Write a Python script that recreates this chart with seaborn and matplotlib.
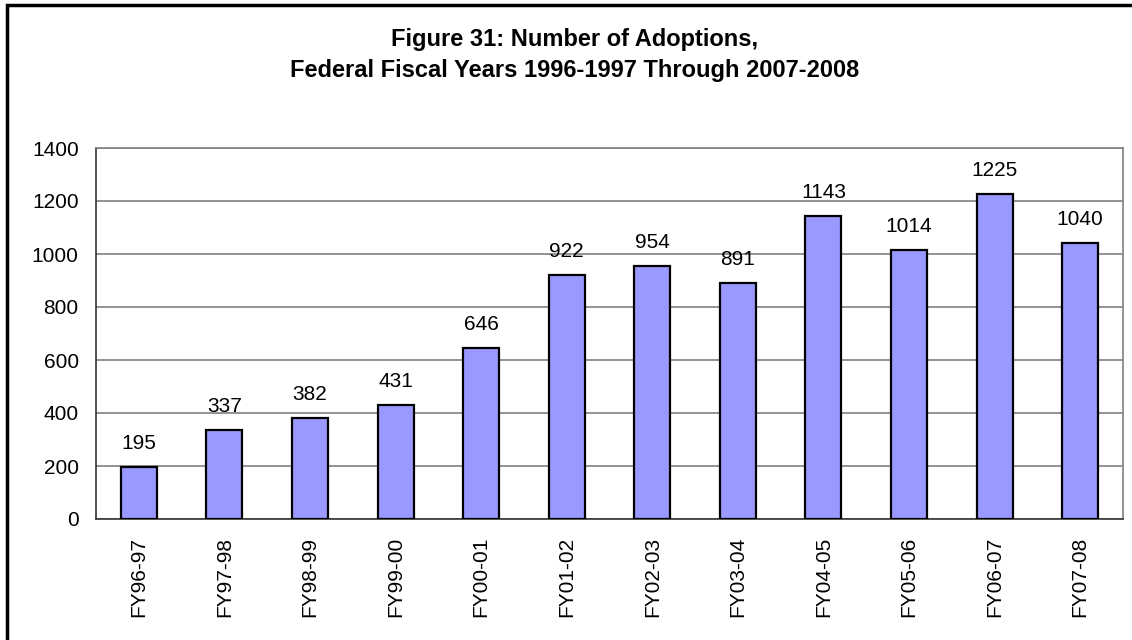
import numpy as np
import pandas as pd
import matplotlib
matplotlib.use("Agg")
import matplotlib.pyplot as plt
import seaborn as sns
from matplotlib.patches import Rectangle

# DADOS
anos = ["FY96-97", "FY97-98", "FY98-99", "FY99-00", "FY00-01", "FY01-02",
        "FY02-03", "FY03-04", "FY04-05", "FY05-06", "FY06-07", "FY07-08"]
adocoes = [195, 337, 382, 431, 646, 922, 954, 891, 1143, 1014, 1225, 1040]
yticks = [0, 200, 400, 600, 800, 1000, 1200, 1400]

titulo = ["Figure 31: Number of Adoptions,",
          "Federal Fiscal Years 1996-1997 Through 2007-2008"]

df = pd.DataFrame({"ano": anos, "adocoes": adocoes})

sns.set_style("white")
plt.rcParams["font.family"] = ["Liberation Sans", "DejaVu Sans"]
plt.rcParams["text.color"] = "black"
plt.rcParams["xtick.color"] = "black"
plt.rcParams["ytick.color"] = "black"

W, H = 1132, 640
fig = plt.figure(figsize=(W / 100, H / 100), dpi=100)
ax = fig.add_axes([96 / W, 1 - 519 / H, (1123 - 96) / W, (519 - 148) / H])

sns.barplot(data=df, x="ano", y="adocoes", color="#9999FF", saturation=1,
            width=0.42, edgecolor="black", linewidth=1.6, ax=ax, zorder=3)

# rótulos acima das barras
for i, v in enumerate(adocoes):
    ax.annotate(str(v), (i, v), xytext=(0, 13), textcoords="offset points",
                ha="center", va="baseline", fontsize=15)

ax.set_ylim(0, 1400)
ax.set_xlim(-0.5, len(anos) - 0.5)
ax.set_yticks(yticks)
ax.set_yticklabels([str(t) for t in yticks], fontsize=15)
ax.yaxis.grid(True, color="#808080", linewidth=1.2, zorder=0)
ax.set_axisbelow(True)

# ticks de x entre categorias
ax.set_xticks(np.arange(len(anos)))
ax.set_xticklabels(anos, rotation=90, fontsize=15)
ax.tick_params(axis="x", which="major", length=0, pad=13)
ax.set_xticks(np.arange(-0.5, len(anos), 1), minor=True)
ax.tick_params(axis="x", which="minor", length=5, width=1.2, color="#333333", direction="out")
ax.tick_params(axis="y", length=4.5, width=1.2, color="#333333", direction="out", pad=8)

ax.set_xlabel("")
ax.set_ylabel("")

for lado in ["left", "bottom"]:
    ax.spines[lado].set_color("#333333")
    ax.spines[lado].set_linewidth(1.2)
for lado in ["top", "right"]:
    ax.spines[lado].set_color("#808080")
    ax.spines[lado].set_linewidth(1.2)

# título em duas linhas
for linha, base in zip(titulo, [46, 77]):
    fig.text(575 / W, 1 - base / H, linha, ha="center", va="baseline",
             fontsize=17, fontweight="bold")

# moldura externa (só esquerda e topo aparecem)
fig.patches.append(Rectangle((7 / W, -0.1), 1.2, 1 - 5 / H + 0.1,
                             transform=fig.transFigure, fill=False,
                             edgecolor="black", linewidth=2.5))

fig.savefig("out.png", dpi=100)
